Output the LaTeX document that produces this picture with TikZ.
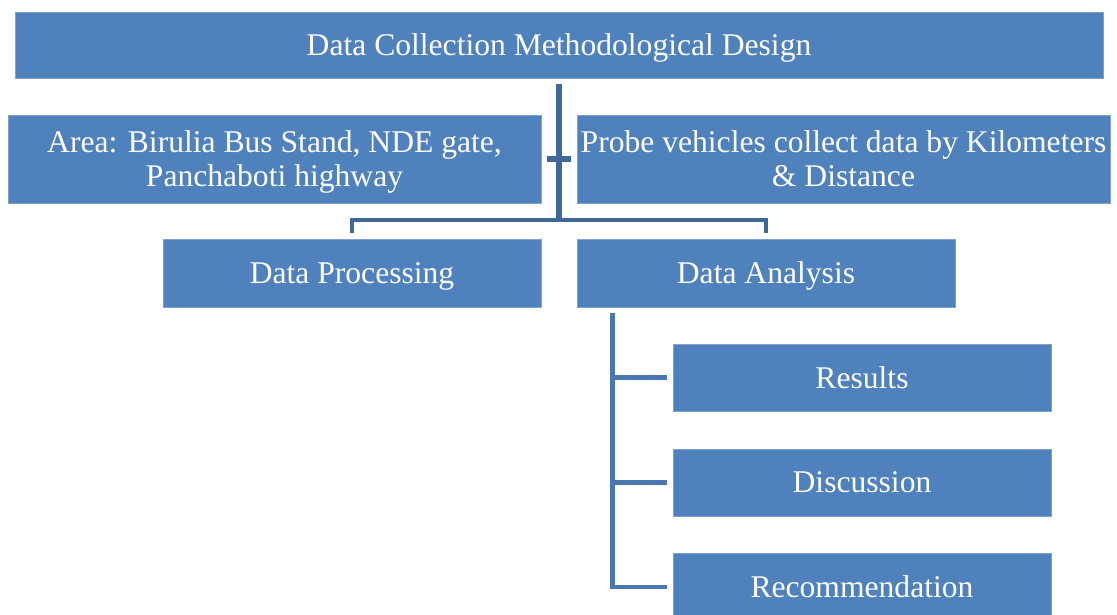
\documentclass[tikz,border=0pt]{standalone}
\usepackage{fontspec}
\setmainfont{Liberation Serif}
\definecolor{boxblue}{HTML}{4F81BD}
\definecolor{boxedge}{HTML}{7FA2CE}
\definecolor{lineA}{HTML}{3F6898}
\definecolor{lineB}{HTML}{4A77AF}
\tikzset{
  box/.style={fill=boxblue, draw=boxedge, line width=0.6pt, text=white, inner sep=0pt,
    align=center, text depth=0pt, font=\fontsize{23.7pt}{25.5pt}\selectfont},
  linkA/.style={draw=lineA, line width=3.8pt},
  linkB/.style={draw=lineB, line width=3.4pt}
}
\begin{document}
\begin{tikzpicture}[x=0.75pt,y=-0.75pt]
\useasboundingbox (0,0) rectangle (1117,614);
\node[box, minimum width=816pt, minimum height=49.5pt] (top) at (559,45) {Data Collection Methodological Design};
\node[box, minimum width=399.75pt, minimum height=66pt] (area) at (274.5,159) {Area: Birulia Bus Stand, NDE gate,\\Panchaboti highway};
\node[box, minimum width=399.75pt, minimum height=66pt] (probe) at (843.5,159) {Probe vehicles collect data by Kilometers\\\& Distance};
\node[box, minimum width=283.5pt, minimum height=51pt] (proc) at (352,273) {Data Processing};
\node[box, minimum width=283.5pt, minimum height=51pt] (anal) at (766,273) {Data Analysis};
\node[box, minimum width=283.5pt, minimum height=50.25pt] (res) at (862,377.5) {Results};
\node[box, minimum width=283.5pt, minimum height=50.25pt] (disc) at (862,482.5) {Discussion};
\node[box, minimum width=283.5pt, minimum height=50.25pt] (rec) at (862,587) {Recommendation};
% top connector
\coordinate (j1) at (559,220);
\draw[linkA] ([yshift=-4.5pt]top.south) -- ([yshift=-1.5pt]j1);
\draw[linkA] ([xshift=4.5pt]area.east) -- ([xshift=-4.5pt]probe.west);
\draw[linkA, line width=3.4pt] ([yshift=4.5pt]proc.north) |- (j1) -| ([yshift=4.5pt]anal.north);
% bottom tree
\coordinate (s0) at ([xshift=27pt,yshift=-4.5pt]anal.south west);
\draw[linkB] (s0) |- ([xshift=-4.5pt]rec.west);
\draw[linkB] (s0 |- res.west) -- ([xshift=-4.5pt]res.west);
\draw[linkB] (s0 |- disc.west) -- ([xshift=-4.5pt]disc.west);
\end{tikzpicture}
\end{document}
